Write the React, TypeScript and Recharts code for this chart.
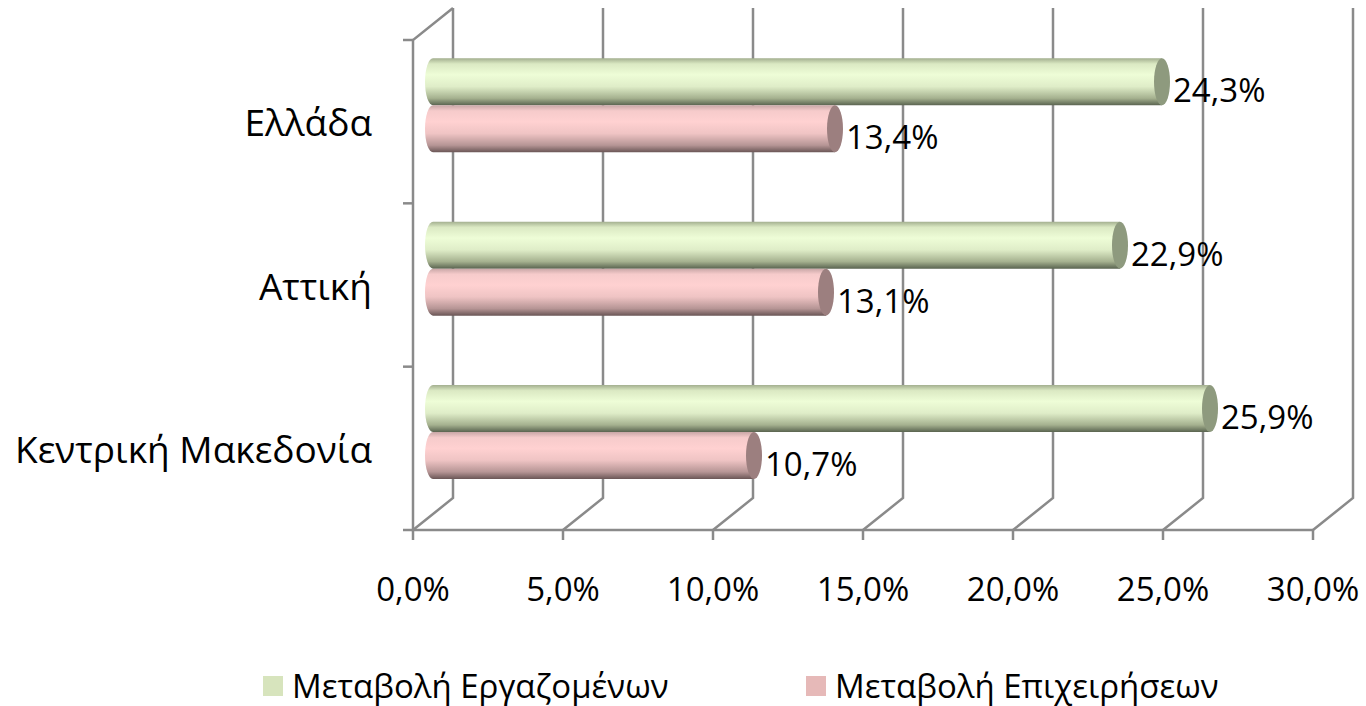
import React from 'react';
import {
    BarChart,
    Bar,
    XAxis,
    YAxis,
    CartesianGrid,
    Legend,
    LabelList
} from 'recharts';

const regions = ['Ελλάδα', 'Αττική', 'Κεντρική Μακεδονία'];
const employees = [24.3, 22.9, 25.9];
const businesses = [13.4, 13.1, 10.7];
const xTicks = [0, 5, 10, 15, 20, 25, 30];
const seriesNames = ['Μεταβολή Εργαζομένων', 'Μεταβολή Επιχειρήσεων'];

const data = regions.map((name, i) => ({
    name,
    employees: employees[i],
    businesses: businesses[i]
}));

const W = 1366;
const H = 706;
const TOP = 24;
const BOTTOM = 514;
const DX = 20;
const DY = 16;
const FONT = '"Open Sans", "Noto Sans", sans-serif';
const GRID = '#8a8a8a';
const RX = 8;

const pct = (v: number) => v.toFixed(1).replace('.', ',') + '%';

// back wall line + floor diagonal for each x tick, plus the left wall on the first one
const GridLine = (props: any) => {
    const { x1, index, x, width, height } = props;
    const left = x - DX;
    const floorY = BOTTOM + DY;
    const band = height / regions.length;
    return (
        <g key={`v-${index}`}>
            <polyline
                points={`${x1 + DX},${TOP - DY} ${x1 + DX},${BOTTOM - DY} ${x1 - DX},${floorY}`}
                fill="none"
                stroke={GRID}
                strokeWidth={2.5}
            />
            {index === 0 && (
                <g>
                    <polyline
                        points={`${x + DX},${TOP - DY} ${left},${TOP + DY} ${left},${floorY} ${left + width},${floorY}`}
                        fill="none"
                        stroke={GRID}
                        strokeWidth={2.5}
                    />
                    {regions.concat(['']).map((_, k) => (
                        <line
                            key={k}
                            x1={left - 10}
                            x2={left}
                            y1={TOP + DY + k * band}
                            y2={TOP + DY + k * band}
                            stroke={GRID}
                            strokeWidth={2.5}
                        />
                    ))}
                </g>
            )}
        </g>
    );
};

const XTick = (props: any) => {
    const { x, payload } = props;
    const fx = x - DX;
    return (
        <g>
            <line x1={fx} x2={fx} y1={BOTTOM + DY} y2={BOTTOM + DY + 10} stroke={GRID} strokeWidth={2.5} />
            <text x={fx} y={601} textAnchor="middle" fontSize={33} fontFamily={FONT} fill="#000">
                {pct(payload.value)}
            </text>
        </g>
    );
};

const YTick = (props: any) => {
    const { y, payload } = props;
    return (
        <text x={372} y={y + DY} textAnchor="end" dominantBaseline="central" fontSize={37} fontFamily={FONT} fill="#000">
            {payload.value}
        </text>
    );
};

const Cylinder = (gradId: string, capColor: string) => (props: any) => {
    const { x, y, width, height } = props;
    const ry = height / 2;
    const end = x + width;
    return (
        <g>
            <path
                d={`M ${x} ${y} H ${end} V ${y + height} H ${x} A ${RX} ${ry} 0 0 1 ${x} ${y} Z`}
                fill={`url(#${gradId})`}
            />
            <ellipse cx={end} cy={y + ry} rx={RX} ry={ry} fill={capColor} />
        </g>
    );
};

const ValueLabel = (props: any) => {
    const { x, y, width, height, value } = props;
    return (
        <text
            x={x + width + RX + 3}
            y={y + height / 2 + 8}
            dominantBaseline="central"
            fontSize={33}
            fontFamily={FONT}
            fill="#000"
        >
            {pct(value)}
        </text>
    );
};

const LegendBox = ({ payload }: any) => {
    const items = [...(payload || [])].sort(
        (a: any, b: any) => seriesNames.indexOf(a.value) - seriesNames.indexOf(b.value)
    );
    return (
        <div style={{ display: 'flex', fontFamily: FONT, fontSize: 33, lineHeight: '44px', color: '#000' }}>
            {items.map((p: any, i: number) => (
                <div key={i} style={{ display: 'flex', alignItems: 'center', width: i === 0 ? 543 : 'auto' }}>
                    <span style={{ width: 20, height: 20, background: p.color, marginRight: 9, display: 'inline-block' }} />
                    <span>{p.value}</span>
                </div>
            ))}
        </div>
    );
};

export default function App() {
    return (
        <div style={{ position: 'absolute', left: 0, top: 0, width: W, height: H, background: '#fff' }}>
            <BarChart
                width={W}
                height={H}
                data={data}
                layout="vertical"
                margin={{ top: TOP, right: 33, left: 0, bottom: H - BOTTOM - 60 }}
                barCategoryGap="21%"
                barGap={0}
            >
                <defs>
                    <linearGradient id="gGreen" x1="0" y1="0" x2="0" y2="1">
                        <stop offset="0%" stopColor="#a3af8f" />
                        <stop offset="12%" stopColor="#dbe9c3" />
                        <stop offset="35%" stopColor="#eefdd7" />
                        <stop offset="60%" stopColor="#dfedc8" />
                        <stop offset="85%" stopColor="#a5b18f" />
                        <stop offset="100%" stopColor="#5a6450" />
                    </linearGradient>
                    <linearGradient id="gPink" x1="0" y1="0" x2="0" y2="1">
                        <stop offset="0%" stopColor="#c8a6a6" />
                        <stop offset="12%" stopColor="#f6cbcb" />
                        <stop offset="35%" stopColor="#ffd1d1" />
                        <stop offset="60%" stopColor="#efc4c4" />
                        <stop offset="85%" stopColor="#b69595" />
                        <stop offset="100%" stopColor="#6a5656" />
                    </linearGradient>
                </defs>
                <CartesianGrid horizontal={false} vertical={GridLine} />
                <XAxis
                    type="number"
                    domain={[0, 30]}
                    ticks={xTicks}
                    height={60}
                    axisLine={false}
                    tickLine={false}
                    tick={XTick}
                    interval={0}
                />
                <YAxis
                    type="category"
                    dataKey="name"
                    width={433}
                    axisLine={false}
                    tickLine={false}
                    tick={YTick}
                />
                <Legend
                    layout="horizontal"
                    verticalAlign="middle"
                    align="center"
                    wrapperStyle={{ top: 664, left: 263, width: 1050, height: 44 }}
                    content={LegendBox}
                />
                <Bar
                    dataKey="employees"
                    name={seriesNames[0]}
                    fill="#d7e4bd"
                    shape={Cylinder('gGreen', '#8e9a7e')}
                    isAnimationActive={false}
                >
                    <LabelList dataKey="employees" content={ValueLabel} />
                </Bar>
                <Bar
                    dataKey="businesses"
                    name={seriesNames[1]}
                    fill="#e6b9b8"
                    shape={Cylinder('gPink', '#9c7f7f')}
                    isAnimationActive={false}
                >
                    <LabelList dataKey="businesses" content={ValueLabel} />
                </Bar>
            </BarChart>
        </div>
    );
}
